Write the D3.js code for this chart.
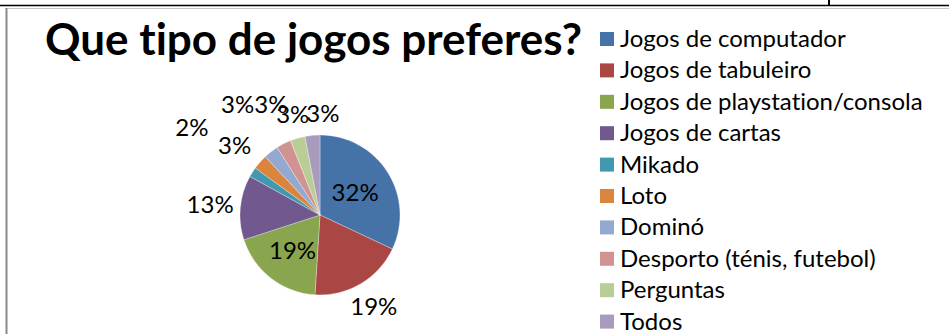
<!DOCTYPE html>
<html>
<head>
<meta charset="utf-8">
<script src="https://cdn.jsdelivr.net/npm/d3@7"></script>
<style>
  html, body { margin: 0; padding: 0; background: #fff; }
  svg { display: block; }
  text { font-family: Lato, Carlito, Calibri, "Open Sans", sans-serif; fill: #000;
         font-variant-ligatures: none; font-feature-settings: "liga" 0; }
</style>
</head>
<body>
<div id="chart"></div>
<script>
// data
var categories = ["Jogos de computador", "Jogos de tabuleiro", "Jogos de playstation/consola",
  "Jogos de cartas", "Mikado", "Loto", "Dominó", "Desporto (ténis, futebol)", "Perguntas", "Todos"];
var values = [32, 19, 19, 13, 2, 3, 3, 3, 3, 3];
var colors = ["#4572A7", "#AA4643", "#89A54E", "#71588F", "#4198AF",
  "#DB843D", "#93A9CF", "#D19392", "#B9CD96", "#A99BBD"];
var title = "Que tipo de jogos preferes?";

// label placement (radius as fraction of pie radius, small angle nudge in degrees)
var labelDist = [0.52, 1.32, 0.56, 1.38, 1.94, 1.38, 1.72, 1.51, 1.30, 1.27];
var labelNudge = [0, 0, 0, 0, 2, -2, 1, 3, 1, 7];

var W = 949, H = 334;
var cx = 320, cy = 215, R = 80;

var svg = d3.select("#chart").append("svg")
    .attr("width", W)
    .attr("height", H);

// page frame lines
svg.append("line").attr("x1", 0).attr("x2", W).attr("y1", 5.5).attr("y2", 5.5)
    .attr("stroke", "#000").attr("stroke-width", 1.5);
svg.append("line").attr("x1", 829).attr("x2", 829).attr("y1", 0).attr("y2", 5)
    .attr("stroke", "#000").attr("stroke-width", 2);
svg.append("line").attr("x1", 5).attr("x2", W).attr("y1", 8.5).attr("y2", 8.5)
    .attr("stroke", "#c8c8c8").attr("stroke-width", 1);
svg.append("line").attr("x1", 6.5).attr("x2", 6.5).attr("y1", 8).attr("y2", H)
    .attr("stroke", "#8a8a8a").attr("stroke-width", 2);

// title
svg.append("text")
    .attr("x", 45)
    .attr("y", 55)
    .style("font-size", "44px")
    .style("font-weight", "bold")
    .text(title);

// pie
var pie = d3.pie().sort(null).value(function (d) { return d; });
var arcs = pie(values);
var arc = d3.arc().innerRadius(0).outerRadius(R);

var g = svg.append("g").attr("transform", "translate(" + cx + "," + cy + ")");
g.selectAll("path.slice")
    .data(arcs)
    .enter().append("path")
    .attr("class", "slice")
    .attr("d", arc)
    .attr("fill", function (d, i) { return colors[i]; })
    .attr("stroke", "#fff")
    .attr("stroke-opacity", 0.5)
    .attr("stroke-width", 0.6);

g.selectAll("text.lbl")
    .data(arcs)
    .enter().append("text")
    .attr("class", "lbl")
    .attr("text-anchor", "middle")
    .attr("dy", "0.36em")
    .style("font-size", "24px")
    .attr("transform", function (d, i) {
      var a = (d.startAngle + d.endAngle) / 2 + labelNudge[i] * Math.PI / 180;
      var r = R * labelDist[i];
      return "translate(" + (Math.sin(a) * r) + "," + (-Math.cos(a) * r) + ")";
    })
    .text(function (d) { return d.data + "%"; });

// legend
var legY = d3.scalePoint().domain(categories).range([39, 321.6]);
var leg = svg.append("g").selectAll("g")
    .data(categories)
    .enter().append("g")
    .attr("transform", function (d) { return "translate(600," + legY(d) + ")"; });
leg.append("rect")
    .attr("x", 0).attr("y", -7)
    .attr("width", 14).attr("height", 14)
    .attr("fill", function (d, i) { return colors[i]; });
leg.append("text")
    .attr("x", 20)
    .attr("y", 8)
    .style("font-size", "24px")
    .text(function (d) { return d; });
</script>
</body>
</html>
